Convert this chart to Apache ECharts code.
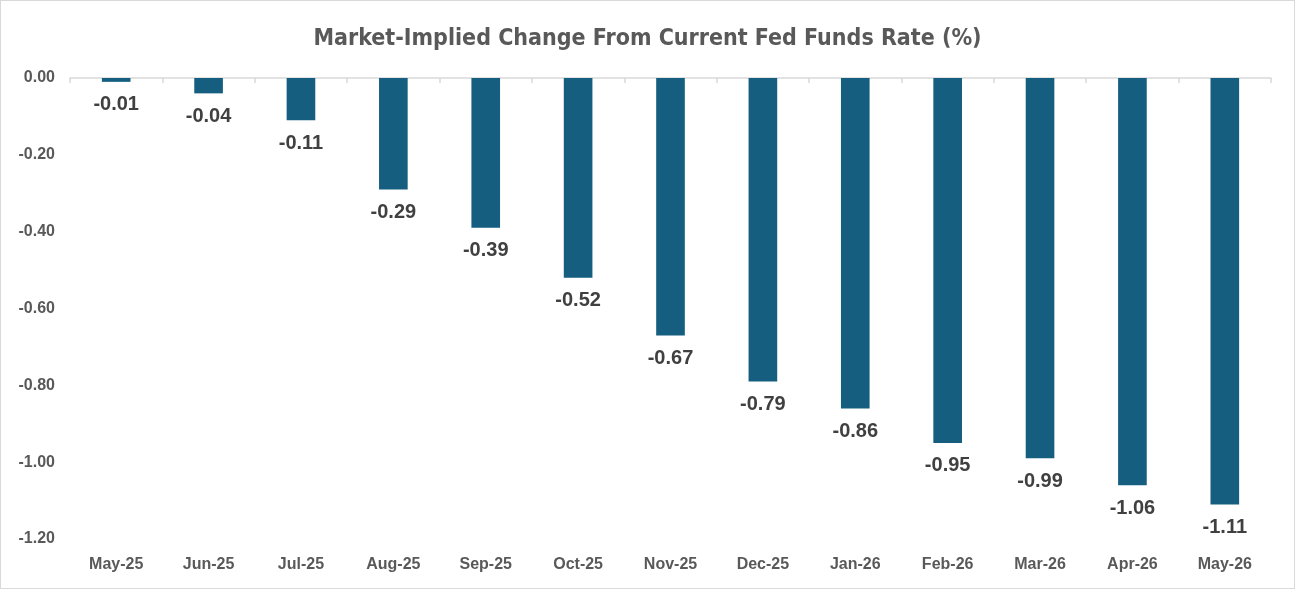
<!DOCTYPE html>
<html>
<head>
<meta charset="utf-8">
<script src="https://cdn.jsdelivr.net/npm/echarts@6/dist/echarts.min.js"></script>
<style>
html,body{margin:0;padding:0;background:#fff;}
#wrap{width:1295px;height:589px;box-sizing:border-box;border:1px solid #D9D9D9;}
#chart{width:1293px;height:587px;}
</style>
</head>
<body>
<div id="wrap"><div id="chart"></div></div>
<script>
const categories = ["May-25","Jun-25","Jul-25","Aug-25","Sep-25","Oct-25","Nov-25","Dec-25","Jan-26","Feb-26","Mar-26","Apr-26","May-26"];
const values = [-0.01,-0.04,-0.11,-0.29,-0.39,-0.52,-0.67,-0.79,-0.86,-0.95,-0.99,-1.06,-1.11];
const titleText = "Market-Implied Change From Current Fed Funds Rate (%)";

const chart = echarts.init(document.getElementById('chart'));
chart.setOption({
  animation: false,
  title: {
    text: titleText,
    left: 'center',
    top: 22,
    textStyle: {
      fontFamily: '"Liberation Sans Narrow","DejaVu Sans Condensed","Roboto Condensed",sans-serif',
      fontWeight: 'bold',
      fontSize: 23,
      color: '#595959'
    }
  },
  grid: {left: 69, right: 23, top: 77, bottom: 49, containLabel: false},
  xAxis: [
    {
      type: 'category',
      data: categories,
      position: 'top',
      axisLine: {show: true, onZero: false, lineStyle: {color: '#D9D9D9', width: 1.5}},
      axisTick: {show: true, inside: true, length: 5, lineStyle: {color: '#D9D9D9', width: 1.5}},
      axisLabel: {show: false}
    },
    {
      type: 'category',
      data: categories,
      position: 'bottom',
      axisLine: {show: false},
      axisTick: {show: false},
      axisLabel: {
        margin: 18,
        fontFamily: '"Liberation Sans", Arial, sans-serif',
        fontWeight: 'bold',
        fontSize: 16,
        color: '#595959'
      }
    }
  ],
  yAxis: {
    type: 'value',
    min: -1.2,
    max: 0,
    interval: 0.2,
    axisLine: {show: false},
    axisTick: {show: false},
    splitLine: {show: false},
    axisLabel: {
      margin: 15,
      formatter: v => v.toFixed(2),
      fontFamily: '"Liberation Sans", Arial, sans-serif',
      fontWeight: 'bold',
      fontSize: 16,
      color: '#595959'
    }
  },
  series: [{
    type: 'bar',
    data: values,
    xAxisIndex: 0,
    barWidth: '31%',
    itemStyle: {color: '#155E7F'},
    label: {
      show: true,
      position: 'bottom',
      distance: 13,
      formatter: p => p.value.toFixed(2),
      fontFamily: '"Liberation Sans", Arial, sans-serif',
      fontWeight: 'bold',
      fontSize: 20,
      color: '#404040'
    }
  }]
});
</script>
</body>
</html>
